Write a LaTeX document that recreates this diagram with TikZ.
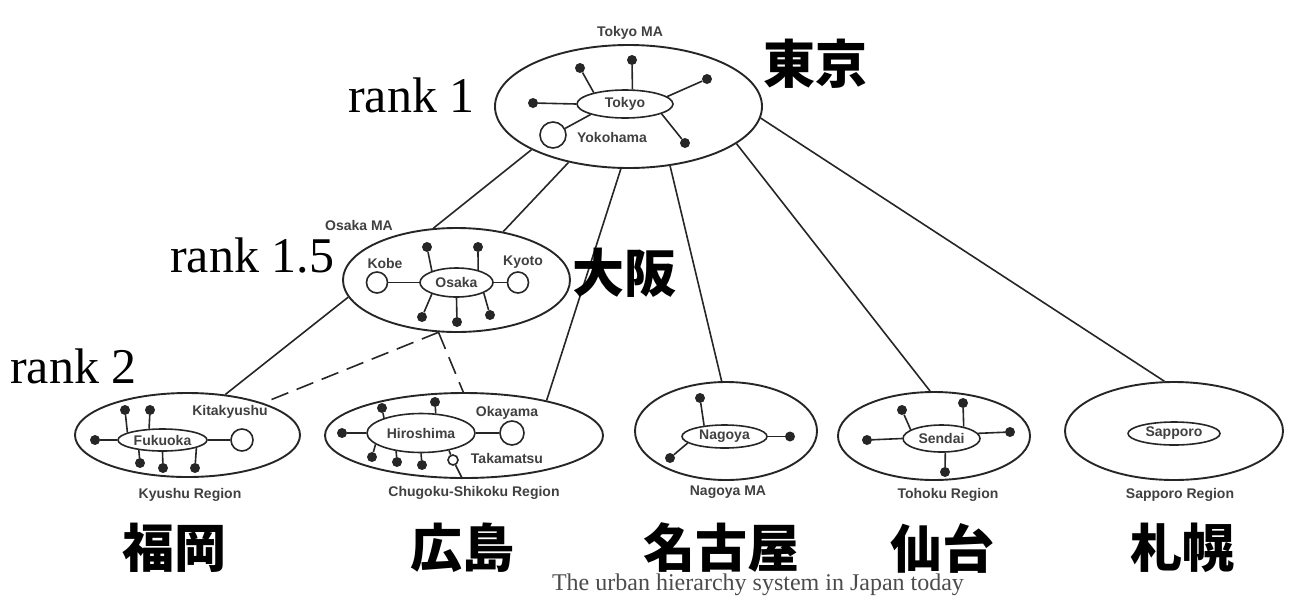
\documentclass[tikz,border=0pt]{standalone}
\usepackage{fontspec}
\setmainfont{Liberation Serif}
\newfontfamily\lsans{Liberation Sans}
\newfontfamily\cjk{Noto Sans CJK JP}
\usetikzlibrary{shapes.geometric}
\begin{document}
\begin{tikzpicture}[x=1pt,y=-1pt,
  outer/.style={draw=black!85, ellipse, line width=1.9pt, inner sep=0pt},
  inner/.style={draw=black!85, ellipse, line width=1.6pt, inner sep=0pt, font=\lsans\bfseries\fontsize{14}{14}\selectfont, text=black!75},
  dot/.style={circle, fill=black!85, inner sep=0pt, minimum size=10pt},
  sat/.style={circle, draw=black!85, line width=1.6pt, inner sep=0pt},
  lab/.style={font=\lsans\bfseries\fontsize{14}{14}\selectfont, text=black!75, inner sep=0pt},
  link/.style={draw=black!85, line width=1.6pt},
  spoke/.style={draw=black!85, line width=1.6pt},
  rank/.style={font=\fontsize{50}{50}\selectfont, anchor=base west, inner sep=0pt},
  jp/.style={font=\cjk\bfseries\fontsize{52}{52}\selectfont, inner sep=0pt},
  caption/.style={font=\fontsize{24}{24}\selectfont, text=black!70, inner sep=0pt}]
\useasboundingbox (0,0) rectangle (1290,600);

% ---------- Tokyo MA ----------
\node[outer, minimum width=267pt, minimum height=123pt] (tma) at (628.5,106.5) {};
\node[inner, minimum width=96pt, minimum height=28pt] (tokyo) at (625,104) {Tokyo};
\node[lab] (tmalab) at (630,33) {Tokyo MA};
\node[dot] (t1) at (533,103) {};
\node[dot] (t2) at (580,68) {};
\node[dot] (t3) at (632,60) {};
\node[dot] (t4) at (707,79) {};
\node[dot] (t5) at (685,143) {};
\node[sat, minimum size=26pt] (yoko) at (553,135) {};
\node[lab] (yokolab) at (612,137) {Yokohama};
\draw[spoke] (t1) -- (tokyo.180);
\draw[spoke] (t2) -- (tokyo.160);
\draw[spoke] (t3) -- (tokyo.63);
\draw[spoke] (t4) -- (tokyo.10);
\draw[spoke] (t5) -- (tokyo.345);
\draw[spoke] (yoko) -- (tokyo.197);

% ---------- Osaka MA ----------
\node[outer, minimum width=227pt, minimum height=104pt] (oma) at (456.5,280) {};
\node[inner, minimum width=73pt, minimum height=29pt] (osaka) at (456.5,282.5) {Osaka};
\node[lab] (omalab) at (359,225) {Osaka MA};
\node[sat, minimum size=21pt] (kobe) at (377,282.5) {};
\node[sat, minimum size=21pt] (kyoto) at (518,282.5) {};
\node[lab] (kobelab) at (385,263) {Kobe};
\node[lab] (kyotolab) at (523,262) {Kyoto};
\node[dot] (o1) at (427,247) {};
\node[dot] (o2) at (478,247) {};
\node[dot] (o3) at (422,317) {};
\node[dot] (o4) at (457,322) {};
\node[dot] (o5) at (490,315) {};
\draw[spoke] (kobe) -- (osaka.180);
\draw[spoke] (kyoto) -- (osaka.0);
\draw[spoke] (o1) -- (osaka.155);
\draw[spoke] (o2) -- (osaka.30);
\draw[spoke] (o3) -- (osaka.205);
\draw[spoke] (o4) -- (osaka.270);
\draw[spoke] (o5) -- (osaka.339);

% ---------- Kyushu Region ----------
\node[outer, minimum width=225pt, minimum height=84pt] (kma) at (187.5,435) {};
\node[inner, minimum width=89pt, minimum height=22pt] (fukuoka) at (162.5,440) {Fukuoka};
\node[sat, minimum size=22pt] (kita) at (242,440) {};
\node[lab] (kitalab) at (230,412) {Kitakyushu};
\node[lab] (kmalab) at (190,495) {Kyushu Region};
\node[dot] (f1) at (125,410) {};
\node[dot] (f2) at (150,410) {};
\node[dot] (f3) at (95,440) {};
\node[dot] (f4) at (140,463) {};
\node[dot] (f5) at (163,468) {};
\node[dot] (f6) at (195,468) {};
\draw[spoke] (kita) -- (fukuoka.0);
\draw[spoke] (f1) -- (fukuoka.168);
\draw[spoke] (f2) -- (fukuoka.140);
\draw[spoke] (f3) -- (fukuoka.180);
\draw[spoke] (f4) -- (fukuoka.203);
\draw[spoke] (f5) -- (fukuoka.270);
\draw[spoke] (f6) -- (fukuoka.347);

% ---------- Chugoku-Shikoku Region ----------
\node[outer, minimum width=278pt, minimum height=85pt] (hma) at (464,435.5) {};
\node[inner, minimum width=108pt, minimum height=39pt] (hiroshima) at (421,433) {Hiroshima};
\node[sat, minimum size=24pt] (okayama) at (512,433) {};
\node[sat, minimum size=10pt] (taka) at (453,460) {};
\node[lab] (okalab) at (507,413) {Okayama};
\node[lab] (takalab) at (507,458) {Takamatsu};
\node[lab] (hmalab) at (474,493) {Chugoku-Shikoku Region};
\node[dot] (h1) at (382,408) {};
\node[dot] (h2) at (435,402) {};
\node[dot] (h3) at (342,433) {};
\node[dot] (h4) at (372,457) {};
\node[dot] (h5) at (397,462) {};
\node[dot] (h6) at (422,465) {};
\draw[spoke] (okayama) -- (hiroshima.0);
\draw[spoke] (hiroshima.328) -- (taka);
\draw[spoke] (taka) -- (hma.268);
\draw[spoke] (h1) -- (hiroshima.158);
\draw[spoke] (h2) -- (hiroshima.53);
\draw[spoke] (h3) -- (hiroshima.180);
\draw[spoke] (h4) -- (hiroshima.194);
\draw[spoke] (h5) -- (hiroshima.216);
\draw[spoke] (h6) -- (hiroshima.270);

% ---------- Nagoya MA ----------
\node[outer, minimum width=182pt, minimum height=98pt] (nma) at (726,431) {};
\node[inner, minimum width=85pt, minimum height=23pt] (nagoya) at (724.5,436.5) {Nagoya};
\node[lab] (nmalab) at (728,492) {Nagoya MA};
\node[dot] (n1) at (700,398) {};
\node[dot] (n2) at (790,436.5) {};
\node[dot] (n3) at (670,458) {};
\draw[spoke] (n1) -- (nagoya.152);
\draw[spoke] (n2) -- (nagoya.0);
\draw[spoke] (n3) -- (nagoya.190);

% ---------- Tohoku Region ----------
\node[outer, minimum width=192pt, minimum height=88pt] (sma) at (934,436) {};
\node[inner, minimum width=77pt, minimum height=27pt] (sendai) at (941.5,438.5) {Sendai};
\node[lab] (smalab) at (948,495) {Tohoku Region};
\node[dot] (s1) at (902,410) {};
\node[dot] (s2) at (963,403) {};
\node[dot] (s3) at (1010,432) {};
\node[dot] (s4) at (867,440) {};
\node[dot] (s5) at (945,472) {};
\draw[spoke] (s1) -- (sendai.164);
\draw[spoke] (s2) -- (sendai.28);
\draw[spoke] (s3) -- (sendai.8);
\draw[spoke] (s4) -- (sendai.180);
\draw[spoke] (s5) -- (sendai.285);

% ---------- Sapporo Region ----------
\node[outer, minimum width=218pt, minimum height=98pt] (pma) at (1174,431) {};
\node[inner, minimum width=92pt, minimum height=23pt] (sapporo) at (1174,433.5) {Sapporo};
\node[lab] (pmalab) at (1180,495) {Sapporo Region};

% ---------- hierarchy links ----------
\draw[link] (tma.204) -- (oma.114);
\draw[link] (tma.223) -- (oma.46);
\draw[link] (tma.263) -- (hma.23);
\draw[link] (tma.305) -- (nma.95);
\draw[link] (tma.341) -- (sma.95);
\draw[link] (tma.355) -- (pma.101);
\draw[link] (oma.189) -- (kma.47);
\draw[link, dash pattern=on 18pt off 9pt] (oma.251) -- (kma.23);
\draw[link, dash pattern=on 18pt off 9pt] (oma.251) -- (hma.91);

% ---------- rank labels ----------
\node[rank] (r1) at (348,112) {rank 1};
\node[rank] (r15) at (170,272) {rank 1.5};
\node[rank] (r2) at (10,383) {rank 2};

% ---------- Japanese city names ----------
\node[jp] (jtokyo) at (815,64) {東京};
\node[jp] (josaka) at (624,273) {大阪};
\node[jp] (jfukuoka) at (174,548) {福岡};
\node[jp] (jhiroshima) at (462,548) {広島};
\node[jp] (jnagoya) at (721,548) {名古屋};
\node[jp] (jsendai) at (942,548) {仙台};
\node[jp] (jsapporo) at (1182,548) {札幌};

% ---------- caption ----------
\node[caption] (cap) at (758,585) {The urban hierarchy system in Japan today};
\end{tikzpicture}
\end{document}
